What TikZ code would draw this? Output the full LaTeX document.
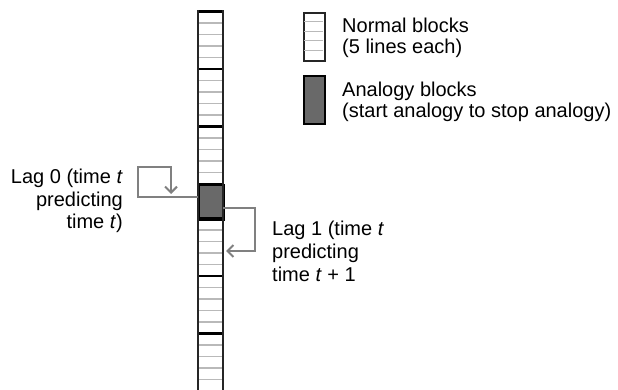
\documentclass[tikz,border=0pt]{standalone}
\usepackage{fontspec}
\setmainfont{Liberation Sans}
\usetikzlibrary{arrows.meta}

\definecolor{rowline}{RGB}{185,185,185}
\definecolor{blockfill}{RGB}{105,105,105}
\definecolor{linkgray}{RGB}{128,128,128}

\tikzset{
  rowsep/.style={draw=rowline, line width=1.3pt},
  blocksep/.style={draw=black, line width=2.4pt},
  colside/.style={draw=black!85, line width=2.2pt},
  anablock/.style={fill=blockfill, draw=black, line width=2.4pt},
  link/.style={draw=linkgray, line width=2.2pt, line join=miter,
    -{Straight Barb[length=6pt,width=12pt,line width=2pt]}},
  lbl/.style={inner sep=0pt, font=\fontsize{20}{23}\selectfont},
}

\begin{document}
\begin{tikzpicture}[x=1pt,y=-1pt]
  \useasboundingbox (0,0) rectangle (618,390);
  \clip (0,0) rectangle (618,390);

  % column of blocks: rows of 11.5, five per normal block, three for the analogy block
  \def\xl{198}\def\xr{223}\def\rh{11.5}
  % light row lines
  \foreach \k in {1,...,34} {
    \pgfmathsetmacro{\yy}{11.5+\k*\rh}
    \draw[rowsep] (\xl,\yy) -- (\xr,\yy);
  }
  % analogy block
  \node[anablock, minimum width=25pt, minimum height=34.5pt, inner sep=0pt,
        anchor=north west] (ana) at (\xl,184) {};
  % thick block boundaries
  \foreach \yy in {11.5,69,126.5,184,218.5,276,333.5} {
    \draw[blocksep] (\xl,\yy) -- (\xr,\yy);
  }
  % column sides
  \draw[colside] (\xl,10.4) -- (\xl,395);
  \draw[colside] (\xr,10.4) -- (\xr,395);

  % legend
  \node[draw=black!85, line width=2pt, minimum width=21pt, minimum height=48pt,
        inner sep=0pt, anchor=north west] (legnormal) at (303,12) {};
  \foreach \yy in {21.6,31.2,40.8,50.4} {
    \draw[rowsep] (304,\yy) -- (323,\yy);
  }
  \node[anablock, line width=2pt, minimum width=21pt, minimum height=48pt,
        inner sep=0pt, anchor=north west] (legana) at (303,75) {};

  \node[lbl, anchor=base west] (tn1) at (342,33) {Normal blocks};
  \node[lbl, anchor=base west] (tn2) at (342,54) {(5 lines each)};
  \node[lbl, anchor=base west] (ta1) at (342,97) {Analogy blocks};
  \node[lbl, anchor=base west] (ta2) at (342,118) {(start analogy to stop analogy)};

  % lag 0 label and connector
  \node[lbl, anchor=base east] (l0a) at (123,183) {Lag 0 (time \textit{t}};
  \node[lbl, anchor=base east] (l0b) at (123,206) {predicting};
  \node[lbl, anchor=base east] (l0c) at (123,229) {time \textit{t})};

  \coordinate (l0s) at (\xl,197);
  \coordinate (l0e) at (171,194);
  \draw[link] (l0s) -- (138,197) -- (138,167) -- (171,167) -- (l0e);

  % lag 1 label and connector
  \node[lbl, anchor=base west] (l1a) at (272,235) {Lag 1 (time \textit{t}};
  \node[lbl, anchor=base west] (l1b) at (272,258) {predicting};
  \node[lbl, anchor=base west] (l1c) at (272,281) {time \textit{t} + 1};

  \coordinate (l1s) at (\xr,208);
  \coordinate (l1e) at (226,251);
  \draw[link] (l1s) -- (255,208) -- (255,251) -- (l1e);
\end{tikzpicture}
\end{document}
